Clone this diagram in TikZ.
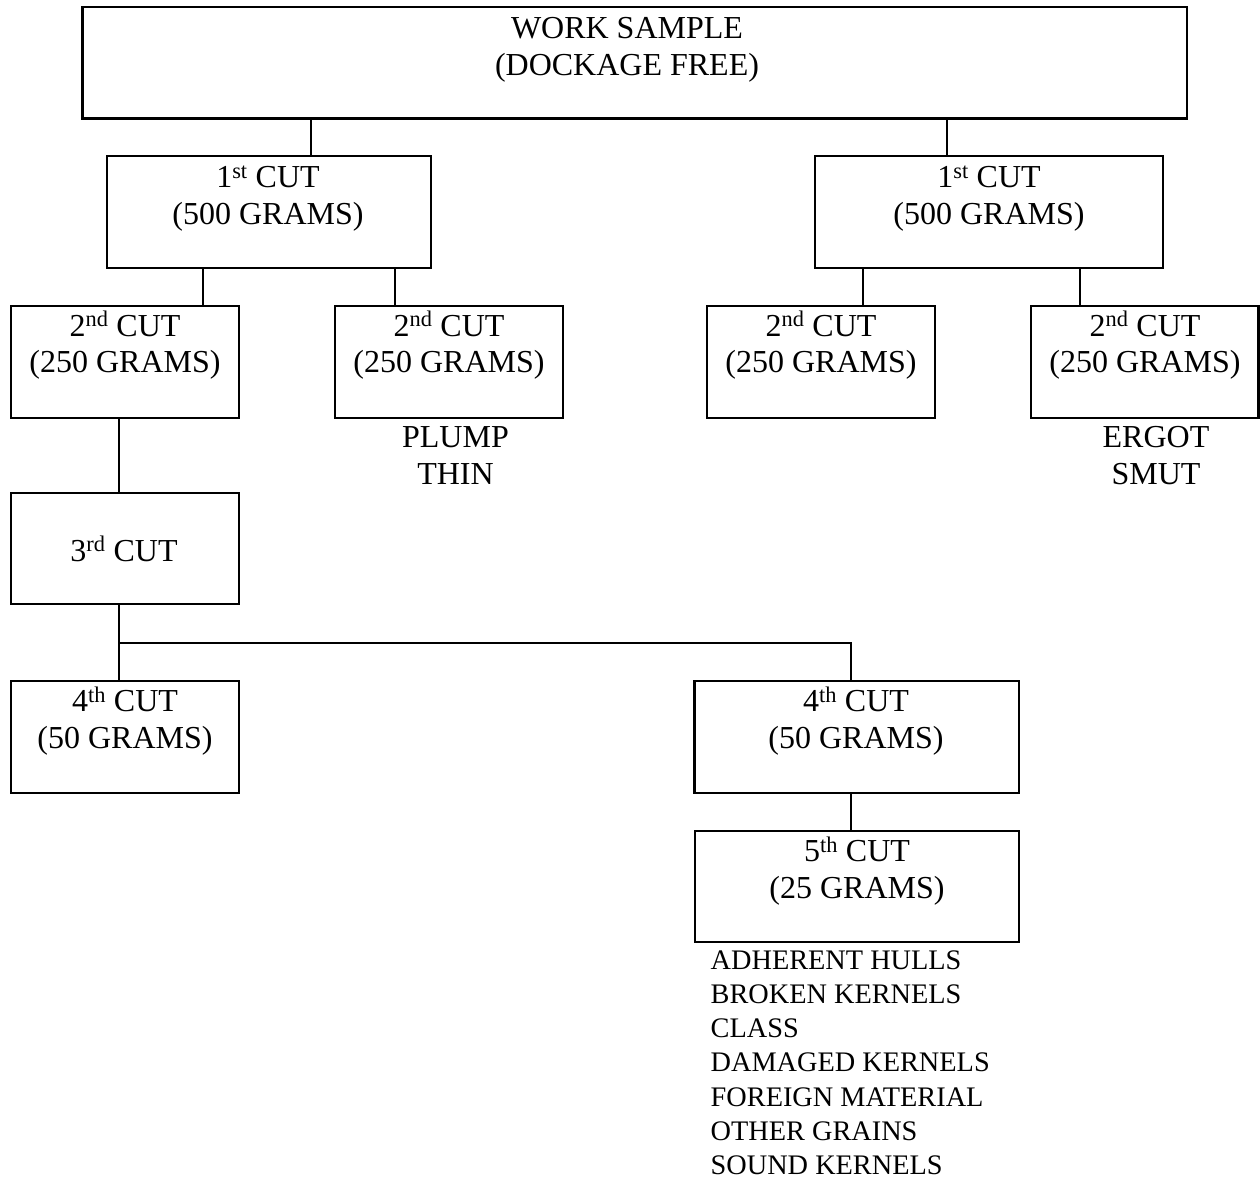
\documentclass[tikz,border=0pt]{standalone}
\usepackage{fontspec}
\setmainfont{Liberation Serif}
\begin{document}
\begin{tikzpicture}[x=1pt,y=-1pt,
  box/.style={draw, line width=2.2pt, inner sep=0pt, outer sep=0pt},
  txt/.style={inner sep=0pt, outer sep=0pt, align=center, anchor=base, font=\fontsize{32}{36.8}\selectfont},
  listtxt/.style={inner sep=0pt, outer sep=0pt, align=left, anchor=base west, font=\fontsize{28.3}{34.3}\selectfont},
  conn/.style={line width=2.2pt}]
\useasboundingbox (0,0) rectangle (1260,1178);
% boxes
\node[box, minimum width=1104.5pt, minimum height=111.8pt] (top) at (634.75,62.6) {};
\node[box, minimum width=324pt, minimum height=112pt] (c1l) at (269,212) {};
\node[box, minimum width=348.3pt, minimum height=112pt] (c1r) at (988.85,211.7) {};
\node[box, minimum width=228pt, minimum height=112pt] (c2a) at (125,361.7) {};
\node[box, minimum width=228.3pt, minimum height=112pt] (c2b) at (449.15,361.7) {};
\node[box, minimum width=228.6pt, minimum height=112pt] (c2c) at (821,361.7) {};
\node[box, minimum width=227.5pt, minimum height=112pt] (c2d) at (1144.75,361.7) {};
\node[box, minimum width=228pt, minimum height=111.3pt] (c3) at (125,548.35) {};
\node[box, minimum width=228pt, minimum height=111.7pt] (c4l) at (125,736.85) {};
\node[box, minimum width=324.5pt, minimum height=111.7pt] (c4r) at (856.75,736.85) {};
\node[box, minimum width=324.6pt, minimum height=110.7pt] (c5) at (857,886.35) {};
% texts (anchor base = baseline of the last line)
\node[txt] (ttop) at (627,75) {WORK SAMPLE\\(DOCKAGE FREE)};
\node[txt] (tc1l) at (268,224) {1\textsuperscript{st} CUT\\(500 GRAMS)};
\node[txt] (tc1r) at (989,224) {1\textsuperscript{st} CUT\\(500 GRAMS)};
\node[txt] (tc2a) at (125,372.8) {2\textsuperscript{nd} CUT\\(250 GRAMS)};
\node[txt] (tc2b) at (449,372.8) {2\textsuperscript{nd} CUT\\(250 GRAMS)};
\node[txt] (tc2c) at (821,372.8) {2\textsuperscript{nd} CUT\\(250 GRAMS)};
\node[txt] (tc2d) at (1145,372.8) {2\textsuperscript{nd} CUT\\(250 GRAMS)};
\node[txt] (tc3) at (124,561) {3\textsuperscript{rd} CUT};
\node[txt] (tc4l) at (125,748) {4\textsuperscript{th} CUT\\(50 GRAMS)};
\node[txt] (tc4r) at (856,748) {4\textsuperscript{th} CUT\\(50 GRAMS)};
\node[txt] (tc5) at (857,898.5) {5\textsuperscript{th} CUT\\(25 GRAMS)};
\node[txt] (plump) at (455.5,484.3) {PLUMP\\THIN};
\node[txt] (ergot) at (1156,484) {ERGOT\\SMUT};
\node[listtxt] (faults) at (710.7,1174.8) {ADHERENT HULLS\\BROKEN KERNELS\\CLASS\\DAMAGED KERNELS\\FOREIGN MATERIAL\\OTHER GRAINS\\SOUND KERNELS};
% connectors
\draw[conn] (311,0 |- top.south) -- (311,0 |- c1l.north);
\draw[conn] (946.7,0 |- top.south) -- (946.7,0 |- c1r.north);
\draw[conn] (203,0 |- c1l.south) -- (203,0 |- c2a.north);
\draw[conn] (395,0 |- c1l.south) -- (395,0 |- c2b.north);
\draw[conn] (863,0 |- c1r.south) -- (863,0 |- c2c.north);
\draw[conn] (1079.7,0 |- c1r.south) -- (1079.7,0 |- c2d.north);
\draw[conn] (119,0 |- c2a.south) -- (119,0 |- c3.north);
\coordinate (split) at (119,642.7);
\draw[conn] (119,0 |- c3.south) -- (119,0 |- c4l.north);
\draw[conn] (split) -| (851,0 |- c4r.north);
\draw[conn] (851,0 |- c4r.south) -- (851,0 |- c5.north);
\end{tikzpicture}
\end{document}
